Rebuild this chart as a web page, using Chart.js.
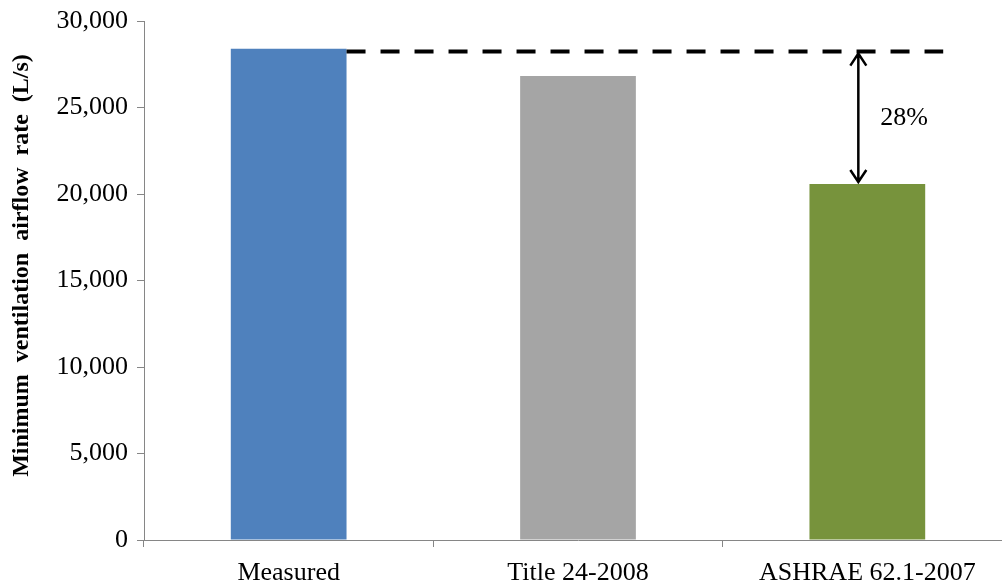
<!DOCTYPE html>
<html>
<head>
<meta charset="utf-8">
<script src="https://cdn.jsdelivr.net/npm/chart.js@4/dist/chart.umd.min.js"></script>
<style>
  html, body { margin: 0; padding: 0; background: #fff; }
  #wrap { width: 1002px; height: 586px; overflow: hidden; }
</style>
</head>
<body>
<div id="wrap"><canvas id="barChart" width="1012" height="586"></canvas></div>
<script>
// Data
const categories = ["Measured", "Title 24-2008", "ASHRAE 62.1-2007"];
const airflow = [28400, 26820, 20580];
const barColors = ["#4F81BD", "#A5A5A5", "#77933C"];
const refLine = 28230;      // dashed reference level
const gapLabel = "28%";

const serif = "'Liberation Serif', 'Times New Roman', serif";
const axisGray = "#868686";

// dashed line + double arrow between Measured level and ASHRAE bar
const gapPlugin = {
    id: "gapPlugin",
    afterDatasetsDraw(chart) {
        const ctx = chart.ctx;
        const y = chart.scales.y;
        const bars = chart.getDatasetMeta(0).data;
        const yRef = y.getPixelForValue(refLine);
        const x0 = bars[0].x + bars[0].width / 2;
        const x1 = bars[2].x + bars[2].width / 2 + 18;
        const ax = bars[2].x - 9;
        const yTop = bars[2].y;

        ctx.save();
        ctx.strokeStyle = "#000";
        ctx.lineWidth = 4;
        ctx.setLineDash([19, 15]);
        ctx.beginPath();
        ctx.moveTo(x0, yRef);
        ctx.lineTo(x1, yRef);
        ctx.stroke();

        ctx.setLineDash([]);
        ctx.lineWidth = 2.5;
        ctx.beginPath();
        ctx.moveTo(ax, yRef + 2);
        ctx.lineTo(ax, yTop - 2);
        // heads
        ctx.moveTo(ax - 8, yRef + 14);
        ctx.lineTo(ax, yRef + 2);
        ctx.lineTo(ax + 8, yRef + 14);
        ctx.moveTo(ax - 8, yTop - 14);
        ctx.lineTo(ax, yTop - 2);
        ctx.lineTo(ax + 8, yTop - 14);
        ctx.stroke();

        ctx.fillStyle = "#000";
        ctx.font = "26px " + serif;
        ctx.textAlign = "left";
        ctx.textBaseline = "middle";
        ctx.fillText(gapLabel, ax + 22, (yRef + yTop) / 2);
        ctx.restore();
    }
};

const barCtx = document.getElementById("barChart").getContext("2d");
new Chart(barCtx, {
    type: "bar",
    data: {
        labels: categories,
        datasets: [
            {
                data: airflow,
                backgroundColor: barColors,
                borderWidth: 0,
                barPercentage: 0.4,
                categoryPercentage: 1.0,
            },
        ],
    },
    options: {
        responsive: false,
        animation: false,
        layout: { padding: { top: 21, right: 0, bottom: 0, left: 0 } },
        plugins: {
            legend: { display: false },
            tooltip: { enabled: false },
        },
        scales: {
            x: {
                afterFit(scale) { scale.height = 46; },
                grid: { drawOnChartArea: false, tickLength: 7, color: axisGray },
                border: { color: axisGray, width: 1 },
                ticks: { color: "#000", font: { family: serif, size: 26 }, padding: 11, maxRotation: 0 },
            },
            y: {
                min: 0,
                max: 30000,
                afterFit(scale) {
                    scale.width = 144;
                    scale.paddingTop = 0;
                },
                grid: { drawOnChartArea: false, tickLength: 7, color: axisGray },
                border: { color: axisGray, width: 1 },
                ticks: {
                    stepSize: 5000,
                    color: "#000",
                    padding: 9,
                    font: { family: serif, size: 26 },
                    callback: (v) => v.toLocaleString("en-US"),
                },
                title: {
                    display: true,
                    text: "\u00A0\u00A0\u00A0\u00A0\u00A0Minimum  ventilation  airflow  rate  (L/s)",
                    color: "#000",
                    font: { family: serif, size: 24, weight: "bold" },
                    padding: { top: 7, bottom: 0 },
                },
            },
        },
    },
    plugins: [gapPlugin],
});
</script>
</body>
</html>
